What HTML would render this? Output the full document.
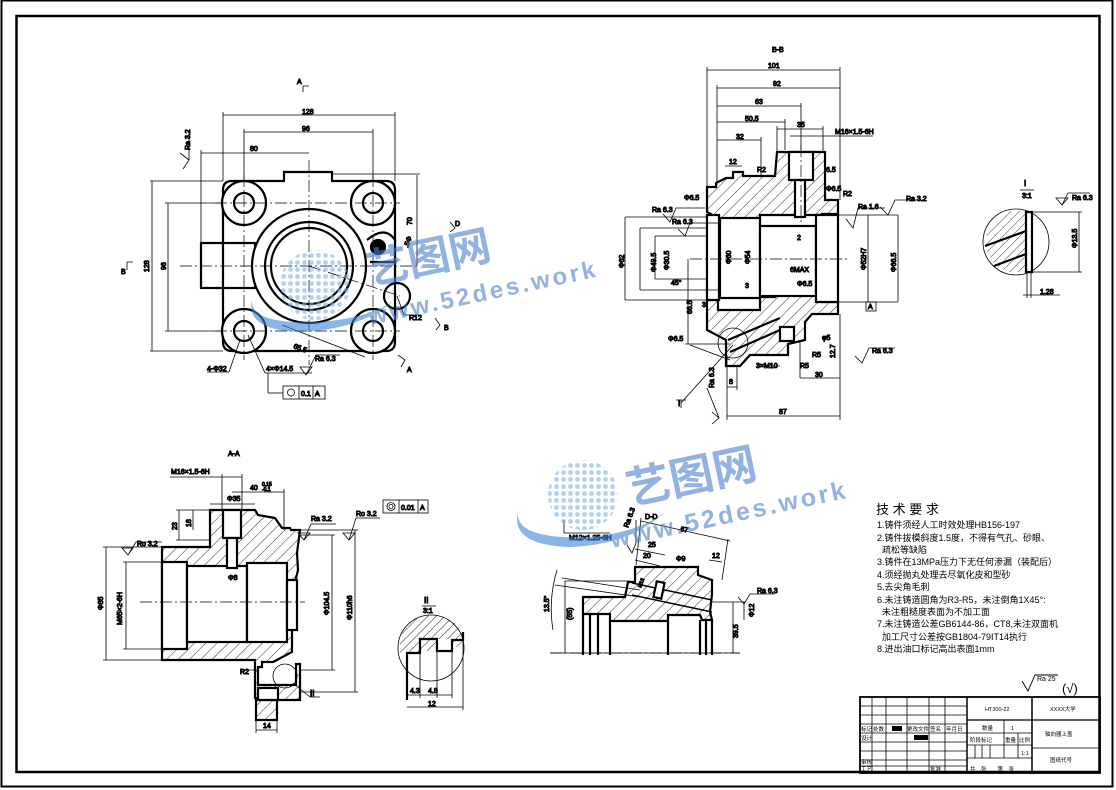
<!DOCTYPE html>
<html><head><meta charset="utf-8"><style>
html,body{margin:0;padding:0;background:#fff}
svg{display:block}
text{font-family:"Liberation Sans","Noto Sans CJK SC",sans-serif;fill:#000}
</style></head><body>
<svg width="1116" height="790" viewBox="0 0 1116 790" xmlns="http://www.w3.org/2000/svg">
<defs>
<pattern id="h" width="8" height="8" patternUnits="userSpaceOnUse" patternTransform="rotate(45)"><line x1="0" y1="0" x2="0" y2="8" stroke="#000" stroke-width="0.8"/></pattern>
<pattern id="h2" width="6" height="6" patternUnits="userSpaceOnUse" patternTransform="rotate(45)"><line x1="0" y1="0" x2="0" y2="6" stroke="#000" stroke-width="0.8"/></pattern>
<pattern id="dots" width="7" height="7" patternUnits="userSpaceOnUse"><circle cx="3.5" cy="3.5" r="2.4" fill="#7fb2ea"/></pattern>
</defs>
<rect x="1.5" y="0.5" width="1111" height="786" fill="none" stroke="#000" stroke-width="2"/>
<rect x="16.5" y="16" width="1083" height="756" fill="none" stroke="#000" stroke-width="2.5"/>

<g fill="none" stroke="#000">
<g stroke-width="2.2">
<path d="M223,190 Q223,181 232,181 L284,181 L284,172 L332,172 L332,181 L386,181 Q395,181 395,190 L395,342 Q395,351 386,351 L232,351 Q223,351 223,342 Z"/>
<rect x="201" y="243" width="54" height="45"/>
<circle cx="244" cy="203" r="22" fill="#fff"/><circle cx="244" cy="203" r="10"/>
<circle cx="373" cy="203" r="22" fill="#fff"/><circle cx="373" cy="203" r="10"/>
<circle cx="244" cy="331" r="22" fill="#fff"/><circle cx="244" cy="331" r="10"/>
<circle cx="373" cy="331" r="22" fill="#fff"/><circle cx="373" cy="331" r="10"/>
<circle cx="309" cy="266" r="57" fill="#fff"/>
<circle cx="309" cy="266" r="44"/>
<circle cx="309" cy="266" r="38"/>
<path d="M367,240 Q385,225 395,240 L395,262 L370,262"/>
<circle cx="378" cy="247" r="7" fill="#000"/>
<circle cx="397" cy="296" r="13"/>
</g>
<g stroke-width="0.7" stroke-dasharray="12,3,2,3">
<line x1="180" y1="266" x2="420" y2="266"/><line x1="309" y1="160" x2="309" y2="365"/>
<line x1="244" y1="175" x2="244" y2="360"/><line x1="373" y1="175" x2="373" y2="360"/>
<line x1="215" y1="203" x2="400" y2="203"/><line x1="215" y1="331" x2="400" y2="331"/>
<line x1="309" y1="266" x2="400" y2="296"/>
</g>
<g stroke-width="0.8">
<line x1="223" y1="115" x2="395" y2="115"/><line x1="223" y1="112" x2="223" y2="181"/><line x1="395" y1="112" x2="395" y2="181"/>
<line x1="244" y1="132" x2="373" y2="132"/><line x1="244" y1="129" x2="244" y2="181"/><line x1="373" y1="129" x2="373" y2="181"/>
<line x1="201" y1="153" x2="309" y2="153"/><line x1="201" y1="150" x2="201" y2="243"/>
<line x1="152" y1="181" x2="152" y2="351"/><line x1="150" y1="181" x2="223" y2="181"/><line x1="150" y1="351" x2="223" y2="351"/>
<line x1="168" y1="203" x2="168" y2="331"/><line x1="165" y1="203" x2="222" y2="203"/><line x1="165" y1="331" x2="222" y2="331"/>
<line x1="417" y1="175" x2="417" y2="266"/><line x1="332" y1="174" x2="420" y2="174"/>
<line x1="282" y1="325" x2="365" y2="357"/>
<line x1="229" y1="372" x2="240" y2="340"/><line x1="207" y1="372" x2="229" y2="372"/>
<line x1="265" y1="373" x2="248" y2="335"/><line x1="265" y1="373" x2="312" y2="373"/>
<line x1="268" y1="373" x2="268" y2="393"/><line x1="268" y1="393" x2="283" y2="393"/>
<rect x="283" y="386" width="42" height="13"/><line x1="299" y1="386" x2="299" y2="399"/><line x1="313" y1="386" x2="313" y2="399"/>
<circle cx="291" cy="392.5" r="3.5"/>
<path d="M180,153 L189,160 L183,169 M189,160 L189,130"/>
<path d="M300,367 L306,375 L312,367 Z M306,375 L316,355 L340,355"/>
<path d="M127,262 L127,270 M127,262 L133,262"/>
<path d="M303,86 L303,92 M303,86 L309,86"/>
<path d="M435,318 L440,325 L436,330"/>
<path d="M398,355 L405,360 L401,367"/>
<path d="M450,222 L455,228 L450,232"/>
<line x1="397" y1="296" x2="404" y2="315"/><line x1="404" y1="315" x2="420" y2="315"/>
</g>
<g font-size="7">
<text x="302" y="114">128</text><text x="302" y="131">96</text><text x="250" y="151">80</text>
<text x="190" y="150" transform="rotate(-90 190 150)">Ra 3.2</text>
<text x="149" y="272" transform="rotate(-90 149 272)">128</text>
<text x="166" y="270" transform="rotate(-90 166 270)">96</text>
<text x="412" y="225" transform="rotate(-90 412 225)">70</text>
<text x="293" y="348" transform="rotate(20 293 348)">65.5</text>
<text x="207" y="371">4-Φ32</text><text x="266" y="371">4×Φ14.5</text>
<text x="301" y="396">0.1</text><text x="315" y="396">A</text>
<text x="315" y="361">Ra 6.3</text><text x="409" y="320">R12</text>
<text x="121" y="274">B</text><text x="297" y="84">A</text><text x="444" y="330">B</text><text x="407" y="372">A</text>
<text x="455" y="226">D</text><text x="408" y="248" transform="rotate(-70 408 248)">.5Φ</text>
</g>

<path fill="url(#h)" stroke="#000" stroke-width="2.2" d="M707,187 L716,187 L716,183 L726,178 L733,178 L733,172 L743,172 L743,176 L775,176 L777,152 L825,152 L825,200 L838,200 L838,214 L822,214 L822,215 L760,215 L760,220 L718,218 L707,212 Z"/>
<path fill="url(#h)" stroke="#000" stroke-width="2.2" d="M707,300 L718,300 L718,310 L760,310 L760,297 L775,297 L775,290 L822,290 L822,302 L838,302 L838,314 L812,314 L805,322 L805,340 L788,344 L788,355 L750,355 L740,366 L726,366 L726,340 L707,330 Z"/>
<g stroke-width="2.2">
<rect x="707" y="215" width="12" height="85" fill="#fff"/>
<rect x="720" y="218" width="40" height="80" fill="#fff"/>
<rect x="760" y="226" width="56" height="70" fill="#fff"/>
<rect x="816" y="215" width="22" height="87" fill="#fff"/>
<rect x="789" y="152" width="24" height="28" fill="#fff"/>
<rect x="795" y="180" width="10" height="37" fill="#fff"/>
<rect x="780" y="327" width="14" height="14" fill="#fff"/>
<path d="M728,340 L780,318 M730,352 L780,330"/>
</g>
<g stroke-width="0.7" stroke-dasharray="12,3,2,3"><line x1="690" y1="259" x2="850" y2="259"/><line x1="801" y1="145" x2="801" y2="225"/></g>
<circle cx="733" cy="343" r="15" stroke-width="0.8"/>
<g stroke-width="0.8">
<line x1="707" y1="70" x2="840" y2="70"/><line x1="707" y1="67" x2="707" y2="187"/><line x1="840" y1="67" x2="840" y2="200"/>
<line x1="717" y1="88" x2="840" y2="88"/><line x1="717" y1="85" x2="717" y2="185"/>
<line x1="717" y1="106" x2="801" y2="106"/><line x1="801" y1="103" x2="801" y2="150"/>
<line x1="717" y1="122" x2="785" y2="122"/><line x1="785" y1="119" x2="785" y2="150"/>
<line x1="717" y1="140" x2="761" y2="140"/><line x1="761" y1="137" x2="761" y2="176"/>
<line x1="777" y1="129" x2="823" y2="129"/><line x1="777" y1="126" x2="777" y2="152"/><line x1="823" y1="126" x2="823" y2="152"/>
<line x1="790" y1="136" x2="873" y2="136"/>
<line x1="725" y1="166" x2="742" y2="166"/>
<line x1="625" y1="217" x2="707" y2="217"/><line x1="625" y1="300" x2="707" y2="300"/><line x1="625" y1="217" x2="625" y2="300"/>
<line x1="640" y1="228" x2="707" y2="228"/><line x1="640" y1="290" x2="707" y2="290"/><line x1="640" y1="228" x2="640" y2="290"/>
<line x1="655" y1="236" x2="707" y2="236"/><line x1="655" y1="279" x2="707" y2="279"/><line x1="655" y1="236" x2="655" y2="279"/>
<line x1="688" y1="259" x2="688" y2="344"/><line x1="685" y1="344" x2="730" y2="344"/>
<line x1="868" y1="215" x2="868" y2="302"/><line x1="838" y1="215" x2="898" y2="215"/><line x1="838" y1="302" x2="898" y2="302"/>
<line x1="898" y1="215" x2="898" y2="302"/>
<line x1="727" y1="355" x2="727" y2="420"/><line x1="840" y1="314" x2="840" y2="420"/><line x1="727" y1="416" x2="840" y2="416"/>
<line x1="800" y1="378" x2="840" y2="378"/><line x1="800" y1="340" x2="800" y2="378"/>
<line x1="727" y1="387" x2="737" y2="387"/><line x1="737" y1="366" x2="737" y2="390"/>
<line x1="757" y1="366" x2="780" y2="366"/>
<line x1="690" y1="345" x2="730" y2="360"/>
<path d="M663,214 L670,222 L676,208 L705,208 M678,229 L685,236 L690,223 L720,223 M705,290 L720,290"/>
<path d="M846,219 L853,228 L858,208 L885,208 M880,207 L888,215 L895,200 L925,200"/>
<path d="M855,356 L862,363 L869,348 L895,348"/>
<path d="M712,412 L719,418 L712,424 M719,418 L707,388"/>
<line x1="681" y1="403" x2="733" y2="345"/>
<path d="M676,400 L686,400 M681,400 L681,408"/>
<rect x="866" y="302" width="10" height="9"/>
</g>
<g font-size="7">
<text x="772" y="52">B-B</text><text x="768" y="68">101</text><text x="773" y="86">92</text>
<text x="755" y="104">63</text><text x="745" y="121">50.5</text><text x="736" y="139">32</text>
<text x="797" y="127">35</text><text x="835" y="134">M16×1.5-6H</text>
<text x="729" y="164">12</text><text x="757" y="172">R2</text>
<text x="826" y="172">6.5</text><text x="826" y="191">Φ6.5</text><text x="843" y="196">R2</text>
<text x="684" y="200">Φ6.5</text><text x="652" y="212">Ra 6.3</text><text x="672" y="224">Ra 6.3</text>
<text x="858" y="209">Ra 1.6</text><text x="906" y="201">Ra 3.2</text>
<text x="624" y="268" transform="rotate(-90 624 268)">Φ62</text>
<text x="656" y="272" transform="rotate(-90 656 272)">Φ49.5</text>
<text x="669" y="270" transform="rotate(-90 669 270)">Φ30.5</text>
<text x="731" y="264" transform="rotate(-90 731 264)">Φ60</text>
<text x="750" y="264" transform="rotate(-90 750 264)">Φ54</text>
<text x="866" y="270" transform="rotate(-90 866 270)">Φ52H7</text>
<text x="896" y="272" transform="rotate(-90 896 272)">Φ66.5</text>
<text x="797" y="240">2</text><text x="790" y="272">6MAX</text><text x="797" y="286">Φ6.5</text>
<text x="868" y="309">A</text><text x="702" y="307">3</text><text x="745" y="288">3</text>
<text x="692" y="314" transform="rotate(-90 692 314)">66.5</text>
<text x="671" y="285">45°</text>
<text x="668" y="341">Φ6.5</text>
<text x="756" y="368">3×M10</text><text x="729" y="384">8</text>
<text x="822" y="340">φ5</text><text x="835" y="358" transform="rotate(-90 835 358)">12.7</text>
<text x="812" y="357">R5</text><text x="800" y="368">R5</text>
<text x="815" y="377">30</text><text x="779" y="414">87</text>
<text x="872" y="353">Ra 6.3</text>
<text x="714" y="388" transform="rotate(-90 714 388)">Ra 6.3</text>
<text x="678" y="406" font-size="8">I</text>
</g>

<circle cx="1016" cy="242" r="33" stroke-width="0.8"/>
<path fill="url(#h2)" stroke="none" d="M1029,211 L1010,211 Q990,215 985,243 Q988,265 1010,272 L1029,272 Z"/>
<g stroke-width="2.2">
<rect x="1026" y="212" width="6" height="60" fill="#fff"/>
<line x1="985" y1="246" x2="1026" y2="231"/><line x1="994" y1="266" x2="1026" y2="254"/>
</g>
<g stroke-width="0.8">
<line x1="1032" y1="212" x2="1082" y2="212"/><line x1="1032" y1="272" x2="1082" y2="272"/><line x1="1079" y1="212" x2="1079" y2="272"/>
<line x1="1023" y1="295" x2="1060" y2="295"/><line x1="1027" y1="272" x2="1027" y2="298"/><line x1="1031" y1="272" x2="1031" y2="298"/>
<path d="M1056,198 L1062,205 L1068,198 Z M1062,205 L1068,193 L1090,193"/>
<line x1="1020" y1="190" x2="1034" y2="190"/>
</g>
<g font-size="7"><text x="1024" y="186" font-size="8">I</text><text x="1022" y="198">3:1</text><text x="1072" y="200">Ra 6.3</text>
<text x="1077" y="248" transform="rotate(-90 1077 248)">Φ13.5</text><text x="1040" y="294">1.28</text></g>

<path fill="url(#h)" stroke="#000" stroke-width="2.2" d="M162,547 L210,547 L210,510 L255,510 L258,515 L275,518 L282,528 L290,528 L291,530 L300,530 L297,553 L298,570 L292,595 L292,652 L273,662 L262,662 L262,667 L258,667 L258,685 L296,685 L296,664 L300,664 L300,700 L256,700 L256,720 L277,720 L277,698 L255,698 L255,660 L162,660 Z"/>
<g stroke-width="2.2">
<rect x="162" y="562" width="25" height="87" fill="#fff"/>
<rect x="187" y="566" width="60" height="76" fill="#fff"/>
<rect x="247" y="563" width="40" height="79" fill="#fff"/>
<rect x="287" y="580" width="10" height="50" fill="#fff"/>
<rect x="223" y="510" width="18" height="28" fill="#fff"/>
<rect x="227" y="538" width="10" height="30" fill="#fff"/>
<rect x="258" y="688" width="20" height="12" fill="#fff"/>
</g>
<line x1="140" y1="602" x2="305" y2="602" stroke-width="0.7" stroke-dasharray="12,3,2,3"/>
<circle cx="285" cy="676" r="12" stroke-width="0.8"/>
<g stroke-width="0.8">
<line x1="170" y1="477" x2="220" y2="477"/><line x1="220" y1="477" x2="242" y2="477"/><line x1="222" y1="474" x2="222" y2="510"/><line x1="242" y1="474" x2="242" y2="510"/>
<line x1="232" y1="492" x2="284" y2="492"/><line x1="284" y1="489" x2="284" y2="530"/>
<line x1="210" y1="504" x2="255" y2="504"/>
<line x1="176" y1="510" x2="210" y2="510"/><line x1="176" y1="540" x2="210" y2="540"/><line x1="179" y1="510" x2="179" y2="540"/>
<line x1="193" y1="510" x2="193" y2="530"/>
<line x1="103" y1="547" x2="162" y2="547"/><line x1="103" y1="660" x2="162" y2="660"/><line x1="106" y1="547" x2="106" y2="660"/>
<line x1="123" y1="562" x2="162" y2="562"/><line x1="123" y1="649" x2="162" y2="649"/><line x1="126" y1="562" x2="126" y2="649"/>
<line x1="300" y1="535" x2="335" y2="535"/><line x1="300" y1="670" x2="335" y2="670"/><line x1="332" y1="535" x2="332" y2="670"/>
<line x1="300" y1="530" x2="358" y2="530"/><line x1="300" y1="692" x2="358" y2="692"/><line x1="355" y1="530" x2="355" y2="692"/>
<line x1="256" y1="730" x2="277" y2="730"/><line x1="256" y1="720" x2="256" y2="733"/><line x1="277" y1="720" x2="277" y2="733"/>
<line x1="240" y1="670" x2="258" y2="670"/>
<line x1="293" y1="683" x2="310" y2="697"/><line x1="310" y1="697" x2="320" y2="697"/>
<path d="M122,548 L128,555 L133,548 Z M128,555 L136,542 L162,542"/>
<path d="M298,533 L304,540 L310,533 Z M304,540 L311,524 L336,524"/>
<path d="M343,533 L349,540 L355,533 Z M349,540 L356,518 L380,518"/>
<rect x="383" y="500" width="45" height="13"/><line x1="399" y1="500" x2="399" y2="513"/><line x1="418" y1="500" x2="418" y2="513"/>
<circle cx="391" cy="506.5" r="4"/><circle cx="391" cy="506.5" r="2"/>
</g>
<g font-size="7">
<text x="228" y="456">A-A</text><text x="171" y="474">M16×1.5-6H</text><text x="227" y="501">Φ35</text>
<text x="250" y="490">40</text><text x="262" y="486" font-size="5">0.15</text><text x="262" y="491" font-size="5">-0.1</text>
<text x="177" y="530" transform="rotate(-90 177 530)">23</text><text x="191" y="527" transform="rotate(-90 191 527)">18</text>
<text x="228" y="580">Φ8</text>
<text x="137" y="546">Ro 3.2</text><text x="311" y="521">Ra 3.2</text><text x="356" y="516">Ro 3.2</text>
<text x="401" y="510">0.01</text><text x="420" y="510">A</text>
<text x="103" y="610" transform="rotate(-90 103 610)">Φ85</text>
<text x="122" y="625" transform="rotate(-90 122 625)">M65×2-6H</text>
<text x="329" y="615" transform="rotate(-90 329 615)">Φ104.5</text>
<text x="352" y="620" transform="rotate(-90 352 620)">Φ110h6</text>
<text x="240" y="674">R2</text><text x="310" y="696" font-size="8">II</text><text x="263" y="728">14</text>
</g>

<circle cx="431" cy="648" r="33" stroke-width="0.8"/>
<path fill="url(#h2)" stroke="none" d="M400,640 Q405,617 431,615 Q458,617 463,636 L463,647 L452,647 L452,639 L437,639 L437,651 L420,651 L420,653 L400,653 Z"/>
<path stroke-width="2.2" d="M407,700 L407,653 L420,653 L420,639 L437,639 L437,651 L452,651 L452,640 L463,640 L463,632"/>
<g stroke-width="0.8"><line x1="407" y1="695" x2="452" y2="695"/><line x1="407" y1="707" x2="463" y2="707"/><line x1="463" y1="640" x2="463" y2="710"/><line x1="420" y1="653" x2="420" y2="698"/><line x1="437" y1="651" x2="437" y2="698"/><line x1="452" y1="651" x2="452" y2="698"/><line x1="422" y1="606" x2="436" y2="606"/></g>
<g font-size="7"><text x="424" y="603" font-size="8">II</text><text x="423" y="613">3:1</text><text x="410" y="693">4.3</text><text x="428" y="693">4.8</text><text x="428" y="706">12</text></g>

<path fill="url(#h)" stroke="#000" stroke-width="2.2" d="M583,614 L583,597 L625,597 L628,582 L635,582 L635,567 L698,567 L698,575 L712,580 L712,594 L710,612 L712,620 L702,620 L700,615 L668,615 L668,621 L610,621 L610,614 Z"/>
<g stroke-width="2.2">
<path d="M583,614 L583,655 M590,614 L590,655 M598,614 L598,655 M610,621 L610,655 M668,621 L668,655 M700,620 L700,655 M706,620 L706,655 M712,620 L712,655"/>
<path d="M632,583 L712,600 M632,595 L712,612" stroke-width="1.5"/>
<rect x="655" y="582" width="8" height="16" fill="#fff" transform="rotate(12 659 590)"/>
</g>
<line x1="550" y1="653" x2="740" y2="653" stroke-width="0.7" stroke-dasharray="12,3,2,3"/>
<g stroke-width="0.8">
<line x1="550" y1="653" x2="740" y2="653"/>
<line x1="555" y1="585" x2="640" y2="597"/><line x1="562" y1="578" x2="640" y2="590"/>
<line x1="565" y1="581" x2="565" y2="653"/><line x1="565" y1="581" x2="630" y2="581"/>
<line x1="733" y1="602" x2="733" y2="653"/><line x1="712" y1="602" x2="745" y2="602"/>
<line x1="744" y1="602" x2="744" y2="620"/>
<line x1="641" y1="521" x2="730" y2="541"/><line x1="641" y1="518" x2="636" y2="565"/><line x1="728" y1="539" x2="722" y2="580"/>
<line x1="635" y1="549" x2="665" y2="555"/><line x1="635" y1="560" x2="660" y2="566"/>
<line x1="709" y1="560" x2="722" y2="562"/>
<path d="M627,545 L632,553 L636,543 L636,520"/>
<path d="M738,597 L744,604 L750,594 L775,594"/>
<path d="M564,520 L564,533 L610,533"/>
<path d="M553,630 Q548,600 557,570"/>
</g>
<g font-size="7">
<text x="645" y="519">D-D</text><text x="680" y="531" transform="rotate(12 680 531)">67</text>
<text x="648" y="547">25</text><text x="643" y="558">20</text><text x="676" y="561">Φ9</text><text x="712" y="558">12</text>
<text x="569" y="540">M12×1.25-6H</text>
<text x="628" y="528" transform="rotate(-70 628 528)">Ra 6.3</text>
<text x="757" y="593">Ra 6.3</text>
<text x="754" y="617" transform="rotate(-90 754 617)">Φ12</text>
<text x="738" y="638" transform="rotate(-90 738 638)">39.5</text>
<text x="572" y="620" transform="rotate(-90 572 620)">(55)</text>
<text x="549" y="612" transform="rotate(-90 549 612)">13.5°</text>
<text x="641" y="588" font-size="5" transform="rotate(-70 641 588)">M12</text>
</g>
</g>

<!-- Watermarks -->
<g opacity="0.6">
<circle cx="315" cy="285" r="35" fill="url(#dots)"/>
<path d="M252,300 Q250,325 320,322 Q370,318 395,300 Q360,330 300,332 Q245,330 252,300 Z" fill="#3e86d8"/>
<text x="370" y="285" font-size="42" font-weight="bold" transform="rotate(-12 370 285)" style="fill:#4a7fd0">艺图网</text>
<text x="370" y="325" font-size="24" font-weight="bold" transform="rotate(-12 370 325)" style="fill:#4a7fd0;letter-spacing:3px">www.52des.work</text>
</g>
<g opacity="0.6">
<circle cx="583" cy="495" r="35" fill="url(#dots)"/>
<path d="M518,512 Q515,540 590,537 Q640,532 665,512 Q630,545 570,547 Q510,545 518,512 Z" fill="#3e86d8"/>
<text x="630" y="505" font-size="44" font-weight="bold" transform="rotate(-12 630 505)" style="fill:#4a7fd0">艺图网</text>
<text x="612" y="548" font-size="25" font-weight="bold" transform="rotate(-12 612 548)" style="fill:#4a7fd0;letter-spacing:3px">www.52des.work</text>
</g>

<g font-size="9">
<text x="876" y="514" font-size="13">技 术 要 求</text>
<text x="877" y="528">1.铸件须经人工时效处理HB156-197</text>
<text x="877" y="541">2.铸件拔模斜度1.5度，不得有气孔、砂眼、</text>
<text x="882" y="553">疏松等缺陷</text>
<text x="877" y="565">3.铸件在13MPa压力下无任何渗漏（装配后）</text>
<text x="877" y="578">4.须经抛丸处理去尽氧化皮和型砂</text>
<text x="877" y="590">5.去尖角毛刺</text>
<text x="877" y="603">6.未注铸造圆角为R3-R5，未注倒角1X45°:</text>
<text x="882" y="615">未注粗糙度表面为不加工面</text>
<text x="877" y="627">7.未注铸造公差GB6144-86，CT8,未注双面机</text>
<text x="882" y="640">加工尺寸公差按GB1804-79IT14执行</text>
<text x="877" y="652">8.进出油口标记高出表面1mm</text>
</g>
<g fill="none" stroke="#000" stroke-width="0.9"><path d="M1022,681 L1028,691 L1035,675 L1058,675"/></g>
<text x="1037" y="681" font-size="7">Ra 25</text>
<text x="1062" y="693" font-size="13">(√)</text>

<g fill="none" stroke="#000" stroke-width="0.8">
<rect x="860" y="697" width="240" height="76" stroke-width="1.8"/>
<line x1="860" y1="706" x2="967" y2="706"/><line x1="860" y1="715" x2="967" y2="715"/><line x1="860" y1="724" x2="967" y2="724"/>
<line x1="860" y1="733" x2="967" y2="733"/><line x1="860" y1="742" x2="967" y2="742"/><line x1="860" y1="751" x2="967" y2="751"/>
<line x1="860" y1="760" x2="967" y2="760"/><line x1="860" y1="766" x2="967" y2="766"/>
<line x1="872" y1="697" x2="872" y2="773"/><line x1="886" y1="697" x2="886" y2="773"/><line x1="907" y1="697" x2="907" y2="773"/>
<line x1="929" y1="697" x2="929" y2="773"/><line x1="945" y1="697" x2="945" y2="773"/>
<line x1="967" y1="697" x2="967" y2="773" stroke-width="1.5"/><line x1="1032" y1="697" x2="1032" y2="773" stroke-width="1.5"/>
<line x1="967" y1="720" x2="1100" y2="720" stroke-width="1.2"/><line x1="1032" y1="748" x2="1100" y2="748"/>
<line x1="967" y1="733" x2="1032" y2="733"/><line x1="967" y1="745" x2="1032" y2="745"/><line x1="967" y1="758" x2="1032" y2="758"/>
<line x1="1004" y1="720" x2="1004" y2="758"/><line x1="1018" y1="733" x2="1018" y2="758"/>
<line x1="975" y1="745" x2="975" y2="758"/><line x1="982" y1="745" x2="982" y2="758"/><line x1="990" y1="745" x2="990" y2="758"/>
</g>
<rect x="892" y="726" width="10" height="5" fill="#000"/><rect x="914" y="735" width="14" height="5" fill="#000"/>
<g font-size="5.5" fill="#333">
<text x="985" y="711">HT300-22</text><text x="1050" y="711">XXXX大学</text>
<text x="982" y="730">数量</text><text x="1011" y="730">1</text><text x="1045" y="736">轴向器上盖</text>
<text x="970" y="742">阶段标记</text><text x="1005" y="742">重量</text><text x="1019" y="742">比例</text>
<text x="1021" y="755">1:1</text><text x="1050" y="762">图纸代号</text>
<text x="970" y="771">共　张　　第　张</text>
<text x="861" y="731">标记</text><text x="873" y="731">处数</text><text x="907" y="731">更改文件</text><text x="930" y="731">签名</text><text x="946" y="731">年月日</text>
<text x="861" y="740">设计</text><text x="861" y="764">审核</text><text x="861" y="771">工艺</text><text x="930" y="771">批准</text>
</g>
</svg>
</body></html>
